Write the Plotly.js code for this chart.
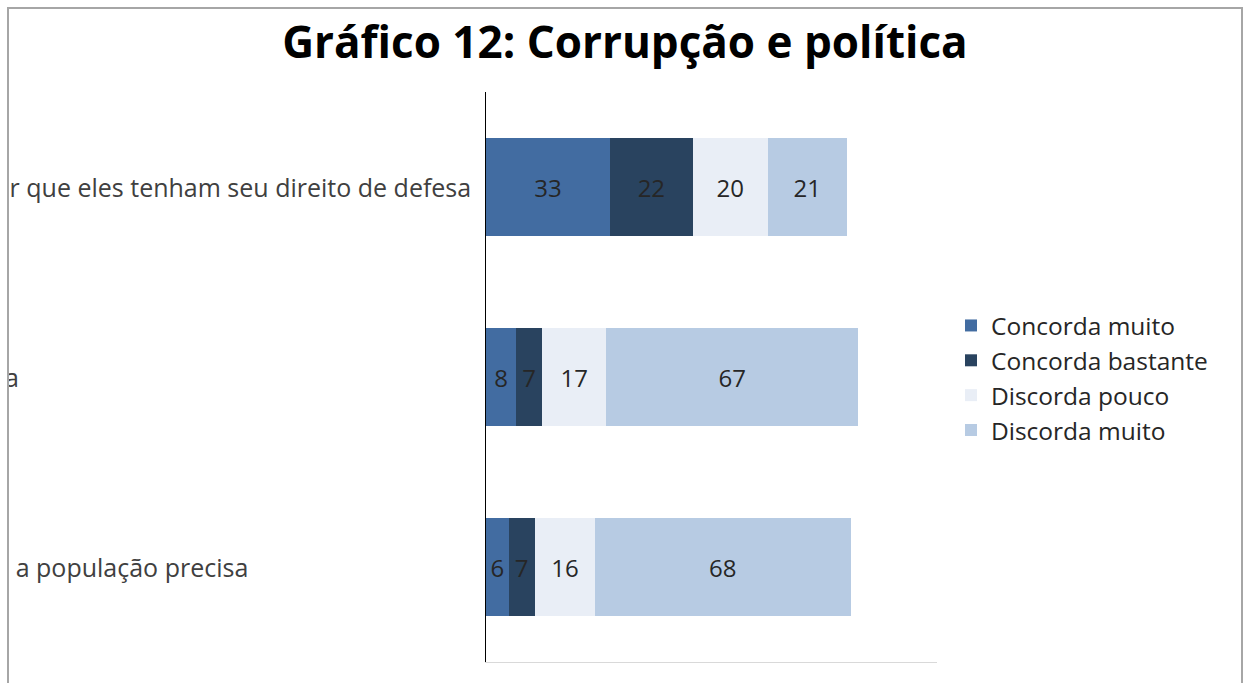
<!DOCTYPE html>
<html>
<head>
<meta charset="utf-8">
<script src="https://cdn.plot.ly/plotly-3.0.1.min.js"></script>
<style>
  html, body { margin:0; padding:0; background:#ffffff; width:1244px; height:683px; overflow:hidden; }
  #frame { position:absolute; left:7px; top:7px; width:1232px; height:700px; border:2px solid #a6a6a6; border-bottom:none; overflow:hidden; background:#ffffff; }
  #chart { position:absolute; left:-400px; top:0; width:1632px; height:690px; }
</style>
</head>
<body>
<div id="frame"><div id="chart"></div></div>
<script>
// Data
const categories = [
  "É melhor que os políticos acusados de corrupção possam continuar nos cargos para garantir que eles tenham seu direito de defesa",
  "Em Brasília, a corrupção sempre fará parte da política",
  "Não tem problema o político roubar se ele fizer as grandes obras de que a população precisa"
];
const seriesNames = ["Concorda muito", "Concorda bastante", "Discorda pouco", "Discorda muito"];
const concordaMuito    = [33, 8, 6];
const concordaBastante = [22, 7, 7];
const discordaPouco    = [20, 17, 16];
const discordaMuito    = [21, 67, 68];
const chartTitle = "Gráfico 12: Corrupção e política";

const seriesValues = [concordaMuito, concordaBastante, discordaPouco, discordaMuito];
const colors = ["#426ca1", "#29435f", "#e9eef6", "#b7cbe3"];
const FONT = "Open Sans, Liberation Sans, sans-serif";

const traces = seriesValues.map((vals, i) => ({
  type: "bar",
  orientation: "h",
  name: seriesNames[i],
  y: categories,
  x: vals,
  text: vals.map(String),
  textposition: "inside",
  insidetextanchor: "middle",
  textangle: 0,
  constraintext: "none",
  textfont: { family: FONT, size: 24, color: "#262626" },
  marker: { color: colors[i], line: { width: 0 } },
  hoverinfo: "x+name"
}));

const annotations = categories.map(c => ({
  text: c,
  xref: "paper", yref: "y",
  x: -1.7273, y: c,
  xanchor: "center", yanchor: "middle",
  showarrow: false,
  font: { family: FONT, size: 25, color: "#404040" }
}));

const layout = {
  width: 1632, height: 690,
  paper_bgcolor: "#ffffff",
  plot_bgcolor: "#ffffff",
  margin: { l: 877, r: 304, t: 83, b: 37, pad: 0 },
  barmode: "stack",
  bargap: 0.484,
  title: {
    text: "<b>" + chartTitle + "</b>",
    x: 0.6225, xanchor: "center",
    y: 0.952, yanchor: "middle",
    font: { family: FONT, size: 44, color: "#000000" }
  },
  xaxis: {
    range: [0, 120],
    showgrid: false, zeroline: false,
    showticklabels: false, ticks: "",
    showline: true, linecolor: "#d9d9d9", linewidth: 1
  },
  yaxis: {
    type: "category",
    autorange: "reversed",
    showgrid: false, zeroline: false,
    showticklabels: false, ticks: "",
    showline: true, linecolor: "#000000", linewidth: 1
  },
  legend: {
    x: 1.031, xanchor: "left",
    y: 0.4982, yanchor: "middle",
    traceorder: "normal",
    font: { family: FONT, size: 24.5, color: "#262626" },
    bgcolor: "rgba(0,0,0,0)"
  },
  annotations: annotations,
  showlegend: true
};

Plotly.newPlot("chart", traces, layout, { displayModeBar: false, staticPlot: true });
</script>
</body>
</html>
